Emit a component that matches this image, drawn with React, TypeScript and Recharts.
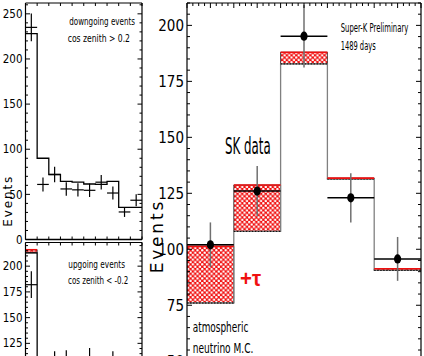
import React from "react";
import { ComposedChart, Line, Scatter, ErrorBar, XAxis, YAxis, ReferenceArea } from "recharts";

// downgoing events, cos zenith > 0.2 (10 energy bins)
const downMC = [228, 90, 72, 64.5, 63.5, 61.5, 61, 64.5, 35.5, 35.5];
const downData = [235, 61, 72, 56, 55, 54.5, 63.5, 51.5, 30.5, 43.5];
const downErr = [15.3, 7.8, 8.5, 7.5, 7.4, 7.4, 8, 7.2, 5.5, 6.6];

// upgoing events, cos zenith < -0.2
const upMC = [213, 100, 98, 95, 92, 88, 85, 80, 50, 48];
const upMCTau = [216, 101, 99, 96, 93, 89, 86, 81, 51, 49];
const upData = [182, 95, 107, 108, 90, 110, 92, 107, 60, 55];
const upErr = [13, 9.7, 10.3, 10.4, 9.5, 10.5, 9.6, 10.3, 7.7, 7.4];

// main panel: 5 bins
const mainMC = [76, 108, 182.8, 131.4, 90.6];
const mainMCTau = [101.3, 128.7, 188, 131.8, 91.3];
const mainData = [102, 126, 195.2, 123, 95.7];
const mainErr = [10, 11.2, 14, 11, 9.8];

// tick labels
const downLabels = [0, 50, 100, 150, 200, 250];
const upLabels = [0, 25, 50, 75, 100, 125, 150, 175, 200];
const mainLabels = [50, 75, 100, 125, 150, 175, 200];

const NARROW = "'Liberation Sans Narrow', 'DejaVu Sans Condensed', 'Liberation Sans', sans-serif";
const SANS = "'Liberation Sans', Arial, sans-serif";
const WIDE = "'DejaVu Sans', sans-serif";
const RED = "#f01010";

const seq = (a: number, b: number, s: number) => {
  const r: number[] = [];
  for (let v = a; v <= b + 1e-9; v += s) r.push(+v.toFixed(4));
  return r;
};
const steps = (v: number[]) => [...v.map((y, i) => ({ x: i, y })), { x: v.length, y: v[v.length - 1] }];
const points = (v: number[], e?: number[]) =>
  v.map((y, i) => ({ x: i + 0.5, y, ex: 0.5, ey: e ? e[i] : 0 }));

type TickOpts = { side: "left" | "right" | "top" | "bottom"; majors: number[]; minor: number; major: number; label?: boolean; fontSize?: number };
const makeTick = (o: TickOpts) => (p: any) => {
  const v = p.payload.value;
  const isMajor = o.majors.some((m) => Math.abs(m - v) < 1e-6);
  const len = isMajor ? o.major : o.minor;
  let x2 = p.x, y2 = p.y;
  if (o.side === "left") x2 += len;
  else if (o.side === "right") x2 -= len;
  else if (o.side === "top") y2 += len;
  else y2 -= len;
  return (
    <g>
      <line x1={p.x} y1={p.y} x2={x2} y2={y2} stroke="#000" strokeWidth={1} />
      {o.label && isMajor && (
        <text x={p.x - 3} y={p.y} dy="0.36em" textAnchor="end" fontSize={o.fontSize} fontFamily={NARROW} fill="#000">
          {v}
        </text>
      )}
    </g>
  );
};

const noShape = () => <g />;
const dot = (p: any) => <ellipse cx={p.cx} cy={p.cy} rx={3.6} ry={4.6} fill="#000" />;
const axisLine = { stroke: "#000", strokeWidth: 1.2 };

// frame: 4 axes; top/bottom have height 1 and right has width 1 so they get drawn
function Frame({ n, yDomain, yTicks, yMajors, label, fs, minor, major, topTicks, topMajors, bottomWidth }: any) {
  return [
    <XAxis key="b" xAxisId="b" dataKey="x" type="number" domain={[0, n]} allowDataOverflow orientation="bottom" height={1}
      ticks={seq(0, n, 1)} interval={0} tickSize={0} tickMargin={0} axisLine={{ stroke: "#000", strokeWidth: bottomWidth }}
      tickLine={false} tick={makeTick({ side: "bottom", majors: [], minor: 3, major: 3 })} />,
    <XAxis key="t" xAxisId="t" dataKey="x" type="number" domain={[0, n]} allowDataOverflow orientation="top" height={1}
      ticks={topTicks} interval={0} tickSize={0} tickMargin={0} axisLine={axisLine}
      tickLine={false} tick={makeTick({ side: "top", majors: topMajors, minor: 3, major: 5 })} />,
    <YAxis key="l" yAxisId="l" type="number" domain={yDomain} allowDataOverflow width={label}
      ticks={yTicks} interval={0} tickSize={0} tickMargin={0} axisLine={axisLine}
      tickLine={false} tick={makeTick({ side: "left", majors: yMajors, minor, major, label: true, fontSize: fs })} />,
    <YAxis key="r" yAxisId="r" orientation="right" type="number" domain={yDomain} allowDataOverflow width={1}
      ticks={yTicks} interval={0} tickSize={0} tickMargin={0} axisLine={axisLine}
      tickLine={false} tick={makeTick({ side: "right", majors: yMajors, minor, major })} />,
  ];
}

const ax = { xAxisId: "b", yAxisId: "l" } as const;

// invisible series so the top / right frame axes get a domain
function FrameAnchor({ data }: { data: any[] }) {
  return <Scatter xAxisId="t" yAxisId="r" data={data} dataKey="y" shape={noShape} isAnimationActive={false} />;
}

function Boxes({ mc, tau }: { mc: number[]; tau: number[] }) {
  return mc.map((v, i) => (
    <ReferenceArea key={"box" + i} {...ax} x1={i} x2={i + 1} y1={v} y2={tau[i]} fill="url(#tauHatch)"
      fillOpacity={1} stroke="#222" strokeWidth={0.8} ifOverflow="hidden" />
  ));
}

export default function App() {
  const t = (x: number, y: number, s: string, fs: number, tl: number, extra: any = {}) => (
    <text x={x} y={y} fontSize={fs} fontFamily={NARROW} textLength={tl} lengthAdjust="spacingAndGlyphs" fill="#000" {...extra}>
      {s}
    </text>
  );
  return (
    <div style={{ position: "absolute", left: 0, top: 0, width: 424, height: 356, overflow: "hidden", background: "#fff" }}>
      <style>{".recharts-surface { overflow: visible; }"}</style>
      <svg width={0} height={0} style={{ position: "absolute" }}>
        <defs>
          <pattern id="tauHatch" width={4.7} height={4.7} patternUnits="userSpaceOnUse">
            <rect width={4.7} height={4.7} fill={RED} />
            <circle cx={1.2} cy={1.2} r={1.25} fill="#fff" />
            <circle cx={3.55} cy={3.55} r={1.25} fill="#fff" />
          </pattern>
        </defs>
      </svg>

      {/* upgoing (drawn first so the downgoing "0" label sits on top) */}
      <div style={{ position: "absolute", left: 0, top: 240 }}>
        <ComposedChart width={144} height={234} margin={{ top: 1.5, right: 1, left: 0, bottom: 1 }}>
          {Frame({ n: 10, yDomain: [0, 223], yTicks: seq(0, 220, 5), yMajors: upLabels, label: 25.5, fs: 11.5, minor: 2.5, major: 4.5, topTicks: seq(0, 10, 1), topMajors: [], bottomWidth: 1.2 })}
          {FrameAnchor({ data: points(upMC) })}
          {Boxes({ mc: upMC, tau: upMCTau })}
          <Line {...ax} data={steps(upMC)} dataKey="y" type="stepAfter" stroke="#000" strokeWidth={1.3} dot={false} isAnimationActive={false} />
          <Scatter {...ax} data={points(upMCTau)} dataKey="y" shape={noShape} isAnimationActive={false}>
            <ErrorBar dataKey="ex" direction="x" width={0} stroke={RED} strokeWidth={1.5} />
          </Scatter>
          <Scatter {...ax} data={points(upData, upErr)} dataKey="y" shape={noShape} isAnimationActive={false}>
            <ErrorBar dataKey="ex" direction="x" width={0} stroke="#000" strokeWidth={1.2} />
            <ErrorBar dataKey="ey" direction="y" width={0} stroke="#000" strokeWidth={1.2} />
          </Scatter>
        </ComposedChart>
      </div>

      {/* downgoing */}
      <div style={{ position: "absolute", left: 0, top: 0 }}>
        <ComposedChart width={144} height={242} margin={{ top: 2, right: 1, left: 0, bottom: 1.5 }}>
          {Frame({ n: 10, yDomain: [0, 262], yTicks: seq(0, 260, 10), yMajors: downLabels, label: 25.5, fs: 11.5, minor: 2.5, major: 4.5, topTicks: seq(0, 10, 1), topMajors: [], bottomWidth: 1.6 })}
          {FrameAnchor({ data: points(downMC) })}
          <Line {...ax} data={steps(downMC)} dataKey="y" type="stepAfter" stroke="#000" strokeWidth={1.3} dot={false} isAnimationActive={false} />
          <Scatter {...ax} data={points(downData, downErr)} dataKey="y" shape={noShape} isAnimationActive={false}>
            <ErrorBar dataKey="ex" direction="x" width={0} stroke="#000" strokeWidth={1.2} />
            <ErrorBar dataKey="ey" direction="y" width={0} stroke="#000" strokeWidth={1.2} />
          </Scatter>
        </ComposedChart>
      </div>

      {/* main panel */}
      <div style={{ position: "absolute", left: 140, top: 0 }}>
        <ComposedChart width={284} height={407} margin={{ top: 2, right: 2, left: 0, bottom: 0 }}>
          {Frame({ n: 5, yDomain: [30, 210], yTicks: seq(30, 210, 5), yMajors: mainLabels, label: 47, fs: 15, minor: 3, major: 5, topTicks: seq(0, 5, 0.125), topMajors: seq(0, 5, 0.5), bottomWidth: 1.2 })}
          {FrameAnchor({ data: points(mainMC) })}
          {Boxes({ mc: mainMC, tau: mainMCTau })}
          <Line {...ax} data={steps(mainMC)} dataKey="y" type="stepAfter" stroke="#808080" strokeWidth={1.3} dot={false} isAnimationActive={false} />
          <Scatter {...ax} data={points(mainMC)} dataKey="y" shape={noShape} isAnimationActive={false}>
            <ErrorBar dataKey="ex" direction="x" width={0} stroke="#000" strokeWidth={1} strokeDasharray="1.5 1.5" />
          </Scatter>
          <Scatter {...ax} data={points(mainMCTau)} dataKey="y" shape={noShape} isAnimationActive={false}>
            <ErrorBar dataKey="ex" direction="x" width={0} stroke={RED} strokeWidth={1.6} />
          </Scatter>
          <Scatter {...ax} data={points(mainData, mainErr)} dataKey="y" shape={dot} isAnimationActive={false}>
            <ErrorBar dataKey="ey" direction="y" width={0} stroke="#707070" strokeWidth={1.5} />
            <ErrorBar dataKey="ex" direction="x" width={0} stroke="#000" strokeWidth={1.5} />
          </Scatter>
        </ComposedChart>
      </div>

      <svg width={424} height={356} style={{ position: "absolute", left: 0, top: 0, pointerEvents: "none" }}>
        {t(69.3, 25, "downgoing events", 11, 65.7)}
        {t(67.7, 41.5, "cos zenith > 0.2", 11, 62.3)}
        {t(68.3, 267.5, "upgoing events", 11, 56.7)}
        {t(68, 284, "cos zenith < -0.2", 11, 60.3)}
        {t(340.7, 32, "Super-K Preliminary", 11.5, 67.6)}
        {t(340.7, 50, "1489 days", 11.5, 35)}
        {t(225, 154, "SK data", 23, 45.7)}
        {t(240, 286, "+τ", 22, 21, { fill: RED, fontWeight: "bold", fontFamily: SANS })}
        {t(192.7, 332, "atmospheric", 14, 55.6)}
        {t(192.7, 352.5, "neutrino M.C.", 14, 60.6)}
        <text transform="translate(162.5,237.5) rotate(-90)" textAnchor="middle" fontSize={17} fontFamily={WIDE}
          textLength={71.6} lengthAdjust="spacing" fill="#000">Events</text>
        <text transform="translate(11.7,201.7) rotate(-90)" textAnchor="middle" fontSize={12} fontFamily={WIDE}
          textLength={50} lengthAdjust="spacing" fill="#000">Events</text>
      </svg>
    </div>
  );
}
